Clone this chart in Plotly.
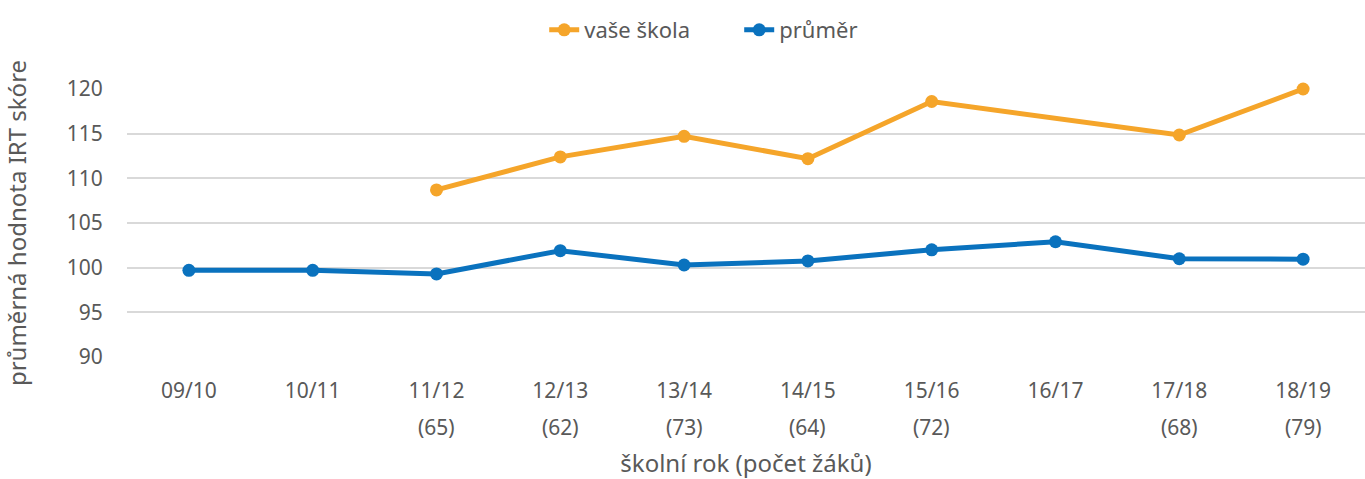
import plotly.graph_objects as go

years = ["09/10", "10/11", "11/12", "12/13", "13/14", "14/15", "15/16", "16/17", "17/18", "18/19"]
counts = ["", "", "(65)", "(62)", "(73)", "(64)", "(72)", "", "(68)", "(79)"]
vase_skola = [None, None, 108.7, 112.4, 114.7, 112.2, 118.6, None, 114.85, 120.0]
prumer = [99.7, 99.7, 99.3, 101.9, 100.3, 100.75, 102.0, 102.9, 101.0, 100.95]
y_ticks = [90, 95, 100, 105, 110, 115, 120]

ORANGE = "#F5A52A"
BLUE = "#0A72BE"
GRAY = "#595959"
FONT = "Noto Sans"

fig = go.Figure()
fig.add_trace(go.Scatter(x=years, y=vase_skola, name="vaše škola", mode="lines+markers",
                         connectgaps=True, line=dict(color=ORANGE, width=5),
                         marker=dict(size=13, color=ORANGE), cliponaxis=False))
fig.add_trace(go.Scatter(x=years, y=prumer, name="průměr", mode="lines+markers",
                         line=dict(color=BLUE, width=5),
                         marker=dict(size=13, color=BLUE), cliponaxis=False))

for yr, c in zip(years, counts):
    if c:
        fig.add_annotation(x=yr, y=0, xref="x", yref="paper", text=c, showarrow=False,
                           yanchor="middle", yshift=-70,
                           font=dict(family=FONT, size=21, color=GRAY))

fig.update_layout(
    width=1365, height=479,
    margin=dict(l=127, r=0, t=89, b=122, autoexpand=False),
    paper_bgcolor="white", plot_bgcolor="white",
    font=dict(family=FONT, size=21, color=GRAY),
    showlegend=True,
    legend=dict(orientation="h", x=0.337, xanchor="left", y=1.22, yanchor="middle",
                font=dict(family=FONT, size=22, color=GRAY),
                entrywidth=150, traceorder="normal"),
    xaxis=dict(type="category", range=[-0.5, len(years) - 0.5],
               showgrid=False, showline=False, zeroline=False,
               automargin=False,
               ticks="outside", ticklen=15, tickcolor="rgba(0,0,0,0)",
               tickfont=dict(family=FONT, size=21, color=GRAY),
               title=dict(text="školní rok (počet žáků)", standoff=61,
                          font=dict(family=FONT, size=24, color=GRAY))),
    yaxis=dict(range=[90, 120], tickvals=y_ticks, showgrid=True, gridcolor="#D9D9D9",
               gridwidth=2, zeroline=False, showline=False, automargin=False,
               ticks="outside", ticklen=19, tickcolor="rgba(0,0,0,0)",
               tickfont=dict(family=FONT, size=21, color=GRAY),
               title=dict(text="průměrná hodnota IRT skóre", standoff=34,
                          font=dict(family=FONT, size=24, color=GRAY))),
)

fig.write_html("out.html", config={"displayModeBar": False},
               post_script="document.body.style.margin='0';")
